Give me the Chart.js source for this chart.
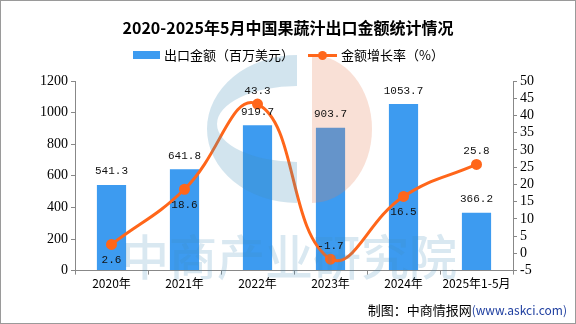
<!DOCTYPE html>
<html lang="zh">
<head>
<meta charset="UTF-8">
<title>中国果蔬汁出口金额统计</title>
<script src="https://cdn.jsdelivr.net/npm/chart.js"></script>
<style>
  * { box-sizing: border-box; margin: 0; padding: 0 }
  html, body { width: 576px; height: 324px; background: #fff; overflow: hidden }
  #wrap { position: relative; width: 576px; height: 324px; border: 1px solid #9a9a9a }
  canvas { position: absolute; left: 0; top: 0 }
  #title { position: absolute; left: 0; top: 15px; width: 574px; text-align: center;
    font: bold 16px "Noto Sans CJK SC", sans-serif; color: #000; line-height: 22px }
  #legend { position: absolute; left: 132px; top: 45px; display: flex; align-items: center;
    font: 13px "Noto Sans CJK SC", sans-serif; color: #000; line-height: 18px }
  #legend .bar { width: 27px; height: 8px; background: #3d9bf0; margin-right: 4px }
  #legend .line { position: relative; width: 29px; height: 3px; background: #ff661a; margin: 0 4px 0 14px }
  #legend .line::after { content: ''; position: absolute; left: 10px; top: -3px; width: 9px; height: 9px;
    border-radius: 50%; background: #ff661a }
  #foot { position: absolute; right: 8px; bottom: 4px; font: 13px "Noto Sans CJK SC", sans-serif; color: #000 }
  #foot span { color: #1f3fa0; font-size: 12px }
</style>
</head>
<body>
<div id="wrap">
  <canvas id="c" width="574" height="322"></canvas>
  <div id="title">2020-2025年5月中国果蔬汁出口金额统计情况</div>
  <div id="legend"><i class="bar"></i>出口金额（百万美元）<i class="line"></i>金额增长率（%）</div>
  <div id="foot">制图：中商情报网<span>(www.askci.com)</span></div>
</div>
<script>
const categories = ['2020年', '2021年', '2022年', '2023年', '2024年', '2025年1-5月'];
const exportValue = [541.3, 641.8, 919.7, 903.7, 1053.7, 366.2];
const growthRate = [2.6, 18.6, 43.3, -1.7, 16.5, 25.8];
// where each growth label sits relative to its point
const rateLabelPos = ['below', 'below', 'above', 'above', 'below', 'above'];

const CJK = '"Noto Sans CJK SC", "DejaVu Sans", sans-serif';
const NUM = '"Liberation Serif", serif';
const MONO = '"Liberation Mono", monospace';

// translucent company logo and name laid over the plot
const watermark = {
  id: 'watermark',
  afterDatasetsDraw(chart) {
    const { ctx } = chart;
    ctx.save();
    ctx.globalAlpha = 0.24;
    // blue "C": left half ring
    ctx.fillStyle = 'rgb(67,142,184)';
    ctx.beginPath();
    ctx.ellipse(296, 128, 90, 74, 0, Math.PI * 0.5, Math.PI * 1.5);
    ctx.closePath();
    ctx.ellipse(296, 123, 80, 38, 0, Math.PI * 1.5, Math.PI * 0.5, true);
    ctx.closePath();
    ctx.fill('evenodd');
    // peach right half
    ctx.fillStyle = 'rgb(230,126,84)';
    ctx.beginPath();
    ctx.ellipse(311, 128, 60, 74, 0, -Math.PI * 0.5, Math.PI * 0.5);
    ctx.closePath();
    ctx.fill();
    ctx.fillStyle = 'rgb(67,142,184)';
    ctx.globalAlpha = 0.2;
    ctx.font = '500 48px ' + CJK;
    ctx.textAlign = 'center';
    ctx.textBaseline = 'alphabetic';
    ctx.fillText('中商产业研究院', 288, 274);
    ctx.restore();
  }
};

// value labels for bars and line points
const valueLabels = {
  id: 'valueLabels',
  afterDatasetsDraw(chart) {
    const { ctx } = chart;
    ctx.save();
    ctx.font = '11px ' + MONO;
    ctx.fillStyle = '#111';
    ctx.textAlign = 'center';
    chart.getDatasetMeta(0).data.forEach((bar, i) => {
      ctx.textBaseline = 'bottom';
      ctx.fillText(exportValue[i].toFixed(1), bar.x, bar.y - 8);
    });
    chart.getDatasetMeta(1).data.forEach((pt, i) => {
      if (rateLabelPos[i] === 'above') {
        ctx.textBaseline = 'bottom';
        ctx.fillText(growthRate[i].toFixed(1), pt.x, pt.y - 8);
      } else {
        ctx.textBaseline = 'top';
        ctx.fillText(growthRate[i].toFixed(1), pt.x, pt.y + 10);
      }
    });
    ctx.restore();
  }
};

new Chart(document.getElementById('c'), {
  data: {
    labels: categories,
    datasets: [
      {
        type: 'bar', label: '出口金额（百万美元）', data: exportValue,
        backgroundColor: '#3d9bf0', yAxisID: 'y',
        barPercentage: 0.4, categoryPercentage: 1, order: 2
      },
      {
        type: 'line', label: '金额增长率（%）', data: growthRate,
        borderColor: '#ff661a', backgroundColor: '#ff661a', borderWidth: 3,
        pointRadius: 4, pointBackgroundColor: '#ff661a', tension: 0.45,
        yAxisID: 'y1', order: 1
      }
    ]
  },
  options: {
    responsive: false,
    animation: false,
    layout: { padding: { left: 36, right: 38, top: 80, bottom: 30 } },
    plugins: {
      legend: { display: false },
      title: { display: false },
      tooltip: { enabled: false }
    },
    scales: {
      x: {
        offset: true,
        grid: { display: true, drawOnChartArea: false, offset: true, tickLength: 4, color: '#888' },
        border: { color: '#888' },
        ticks: { color: '#000', font: { family: CJK, size: 12 }, maxRotation: 0, padding: 2 }
      },
      y: {
        position: 'left', min: 0, max: 1200,
        ticks: { stepSize: 200, color: '#000', font: { family: NUM, size: 14 }, callback: v => String(v) },
        grid: { drawOnChartArea: false, tickLength: 4, color: '#888' },
        border: { color: '#888' }
      },
      y1: {
        position: 'right', min: -5, max: 50,
        ticks: { stepSize: 5, autoSkip: false, color: '#000', font: { family: NUM, size: 14 }, callback: v => String(v) },
        grid: { drawOnChartArea: false, tickLength: 4, color: '#888' },
        border: { color: '#888' }
      }
    }
  },
  plugins: [watermark, valueLabels]
});
</script>
</body>
</html>
